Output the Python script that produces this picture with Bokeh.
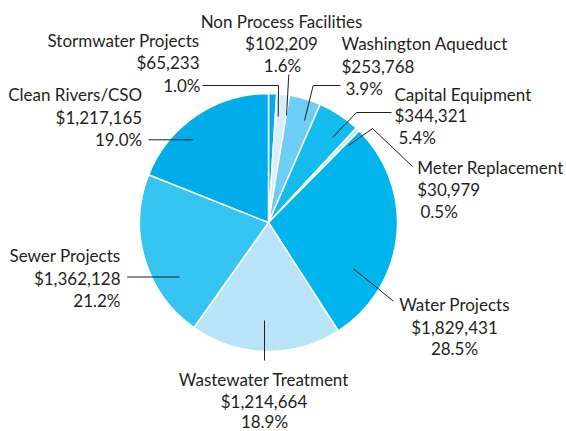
import math
from bokeh.plotting import figure
from bokeh.models import Range1d
from bokeh.core.properties import value
from bokeh.embed import file_html
from bokeh.resources import INLINE

# ---- data ----
categories = ["Stormwater Projects", "Non Process Facilities", "Washington Aqueduct",
              "Capital Equipment", "Meter Replacement", "Water Projects",
              "Wastewater Treatment", "Sewer Projects", "Clean Rivers/CSO"]
amounts = [65233, 102209, 253768, 344321, 30979, 1829431, 1214664, 1362128, 1217165]
pct_labels = ["1.0%", "1.6%", "3.9%", "5.4%", "0.5%", "28.5%", "18.9%", "21.2%", "19.0%"]
colors = ["#00ACEA", "#D6EFFB", "#6CCEF5", "#13BBEF", "#C4E9F9",
          "#00B4EE", "#B9E4F8", "#36C4F2", "#00ACEA"]

# ---- layout (screen pixel coordinates of the 566x431 page) ----
W, H = 566, 431
CX, CY, R = 268, 222, 129
FONT = "Lato"
FSIZE = "17px"
TXT = "#231F20"

# per label: alignment, x per line, y per line
label_layout = [
    ("right",  [199, 199, 200],       [39.5, 62, 84.5]),
    ("center", [281, 281, 282],       [20.7, 43, 65]),
    ("left",   [341, 341, 345],       [43.3, 65.7, 87.7]),
    ("left",   [394, 394, 398],       [93.5, 115, 137]),
    ("left",   [416.7, 416.7, 420],   [167, 189, 211]),
    ("center", [454, 454, 454],       [304, 326.5, 348]),
    ("center", [263.5, 263.5, 264],   [379, 400.5, 421]),
    ("right",  [120, 120, 120],       [255, 277.7, 300]),
    ("right",  [141.7, 141.7, 141.7], [94, 116.7, 139.3]),
]
leaders = [
    [(202, 85), (278, 85), (277.7, 116)],
    [(288.3, 74), (286, 115)],
    [(304, 120), (312.7, 85), (340, 85)],
    [(332, 137), (356, 112), (391, 112)],
    [(348, 145), (372, 128), (412, 166)],
    [(352.7, 268), (393, 300.7)],
    [(264, 320), (264, 360)],
    [(126.7, 276.5), (179, 276.5)],
    [(148, 139.3), (193, 139.3)],
]


def fy(sy):
    return H - sy


p = figure(width=W, height=H, x_range=Range1d(0, W), y_range=Range1d(0, H),
           output_backend="svg", toolbar_location=None, min_border=0)
p.axis.visible = False
p.grid.visible = False
p.outline_line_color = None
p.background_fill_color = "white"
p.border_fill_color = "white"

total = sum(amounts)
starts, ends = [], []
cum = 0.0
for a in amounts:
    s = math.pi / 2 - 2 * math.pi * cum / total
    cum += a
    e = math.pi / 2 - 2 * math.pi * cum / total
    starts.append(s)
    ends.append(e)

p.wedge(x=CX, y=fy(CY), radius=R, start_angle=starts, end_angle=ends, direction="clock",
        fill_color=colors, line_color="white", line_width=1.5)

for pts in leaders:
    p.line([q[0] for q in pts], [fy(q[1]) for q in pts], line_color=TXT, line_width=1)

for name, amt, pct, (align, xs, ys) in zip(categories, amounts, pct_labels, label_layout):
    lines = [name, "${:,}".format(amt), pct]
    p.text(x=xs, y=[fy(v) for v in ys], text=lines, text_align=align, text_baseline="middle",
           text_font=value(FONT), text_font_size=FSIZE, text_color=TXT)

open("out.html", "w").write(file_html(p, INLINE))
